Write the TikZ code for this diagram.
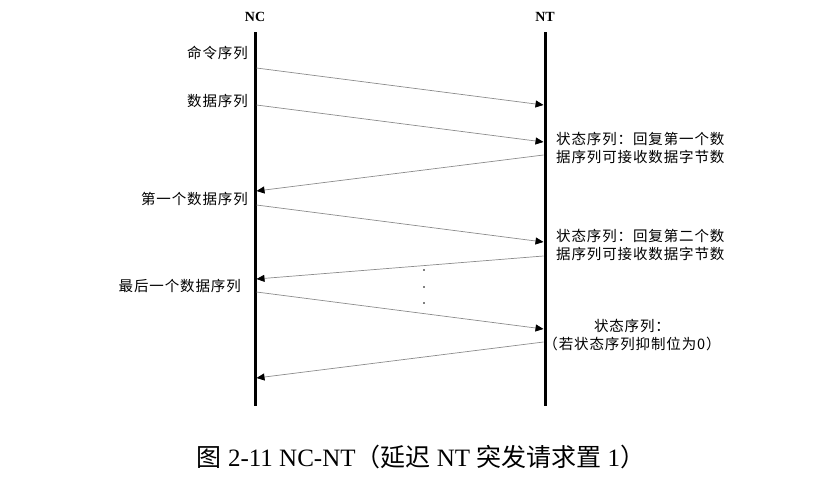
\documentclass[tikz,border=0pt]{standalone}
\usepackage{fontspec}
\setmainfont{Liberation Serif}
\newfontfamily\cjk[LetterSpace=6]{Noto Sans CJK SC}
\newfontfamily\cjkcap{Noto Sans CJK SC}
\usetikzlibrary{arrows.meta}
\tikzset{
  lifeline/.style={line width=3pt, line cap=butt},
  msg/.style={draw=black!45, line width=0.7pt, -{Triangle[length=8pt,width=7pt,black]}},
  lbl/.style={inner sep=0pt, font=\cjk\fontsize{14.5}{18}\selectfont},
  head/.style={inner sep=0pt, font=\bfseries\fontsize{14}{16}\selectfont},
  dotmark/.style={fill=black, inner sep=0pt, minimum size=1.8pt, circle},
}
\begin{document}
\begin{tikzpicture}[x=1pt,y=-1pt]
\useasboundingbox (0,0) rectangle (826,490);
% lifelines
\coordinate (nctop) at (255,32);
\coordinate (ncbot) at (255,406);
\coordinate (nttop) at (545,32);
\coordinate (ntbot) at (545,406);
\draw[lifeline] (nctop) -- (ncbot);
\draw[lifeline] (nttop) -- (ntbot);
\node[head] (nc) at (255,17) {NC};
\node[head] (nt) at (545,17) {NT};
% message end points
\coordinate (s1) at (256.5,68);  \coordinate (e1) at (543.5,105);
\coordinate (s2) at (256.5,105); \coordinate (e2) at (543.5,142);
\coordinate (s3) at (543.5,155); \coordinate (e3) at (256.5,191);
\coordinate (s4) at (256.5,205); \coordinate (e4) at (543.5,242);
\coordinate (s5) at (543.5,256); \coordinate (e5) at (256.5,279);
\coordinate (s6) at (256.5,292); \coordinate (e6) at (543.5,329);
\coordinate (s7) at (543.5,342); \coordinate (e7) at (256.5,378);
\draw[msg] (s1) -- (e1);
\draw[msg] (s2) -- (e2);
\draw[msg] (s3) -- (e3);
\draw[msg] (s4) -- (e4);
\draw[msg] (s5) -- (e5);
\draw[msg] (s6) -- (e6);
\draw[msg] (s7) -- (e7);
% left labels
\node[lbl, anchor=east] (l1) at (248,53) {命令序列};
\node[lbl, anchor=east] (l2) at (248,101) {数据序列};
\node[lbl, anchor=east] (l3) at (248,199) {第一个数据序列};
\node[lbl, anchor=east] (l4) at (241,286) {最后一个数据序列};
% right labels
\node[lbl, anchor=west, align=left] (r1) at (556,148) {状态序列：回复第一个数\\据序列可接收数据字节数};
\node[lbl, anchor=west, align=left] (r2) at (556,245) {状态序列：回复第二个数\\据序列可接收数据字节数};
\node[lbl, align=center] (r3) at (632,335) {状态序列：\\（若状态序列抑制位为0）};
% ellipsis dots
\node[dotmark] (d1) at (424,270) {};
\node[dotmark] (d2) at (424,287) {};
\node[dotmark] (d3) at (424,303) {};
% caption
\node[inner sep=0pt, font=\fontsize{25}{28}\selectfont] (cap) at (421,457)
  {{\cjkcap 图} 2-11 NC-NT{\cjkcap （延迟} NT {\cjkcap 突发请求置} 1{\cjkcap ）}};
\end{tikzpicture}
\end{document}
